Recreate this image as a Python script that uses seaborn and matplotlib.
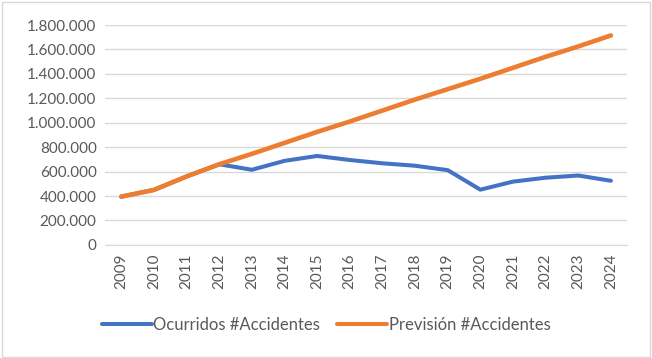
import pandas as pd
import seaborn as sns
import matplotlib.pyplot as plt
from matplotlib.ticker import FuncFormatter
from matplotlib.patches import Rectangle

# values
years = list(range(2009, 2025))
ocurridos = [395000, 450000, 560000, 660000, 615000, 688000, 728000, 695000,
             668000, 648000, 612000, 452000, 518000, 550000, 568000, 525000]
prevision = [395000, 450000, 560000, 660000, 745000, 835000, 925000, 1010000,
             1100000, 1190000, 1275000, 1360000, 1450000, 1540000, 1625000, 1715000]
series_names = ["Ocurridos #Accidentes", "Previsión #Accidentes"]

df = pd.DataFrame({
    "year": years * 2,
    "value": ocurridos + prevision,
    "serie": [series_names[0]] * len(years) + [series_names[1]] * len(years),
})

sns.set_style("white")
plt.rcParams["font.family"] = ["Lato", "DejaVu Sans"]
text_col = "#595959"

fig = plt.figure(figsize=(6.52, 3.58), dpi=100)
ax = fig.add_axes([0.161, 0.316, 0.801, 0.614])

sns.lineplot(data=df, x="year", y="value", hue="serie",
             palette=["#4472C4", "#ED7D31"], linewidth=2.9, ax=ax,
             solid_capstyle="round")
# orange a touch wider so the blue under it does not show at the edges
ax.lines[1].set_linewidth(3.3)

ax.set_xlim(2008.5, 2024.5)
ax.set_ylim(0, 1800000)
ax.set_yticks(range(0, 1800001, 200000))
ax.yaxis.set_major_formatter(FuncFormatter(lambda v, p: f"{int(v):,}".replace(",", ".")))
ax.set_xticks(years)
ax.set_xticklabels([str(y) for y in years], rotation=90)
ax.tick_params(axis="both", length=0, labelsize=11, colors=text_col, pad=6)
ax.grid(axis="y", color="#D9D9D9", linewidth=1)
ax.set_axisbelow(True)
for s in ax.spines.values():
    s.set_visible(False)
ax.spines["bottom"].set_visible(True)
ax.spines["bottom"].set_color("#D9D9D9")
ax.set_xlabel("")
ax.set_ylabel("")

ax.legend_.remove()
handles, labels = ax.get_legend_handles_labels()
for h in handles:
    h.set_linewidth(2.9)
fig.legend(handles, labels, loc="center", bbox_to_anchor=(0.5, 0.092), ncol=2,
           frameon=False, fontsize=12, handlelength=3.0, columnspacing=1.0,
           handletextpad=0.1, labelcolor=text_col)

fig.patches.append(Rectangle((0.003, 0.004), 0.994, 0.99, transform=fig.transFigure,
                             fill=False, edgecolor="#D9D9D9", linewidth=1))

fig.savefig("out.png", dpi=100)
